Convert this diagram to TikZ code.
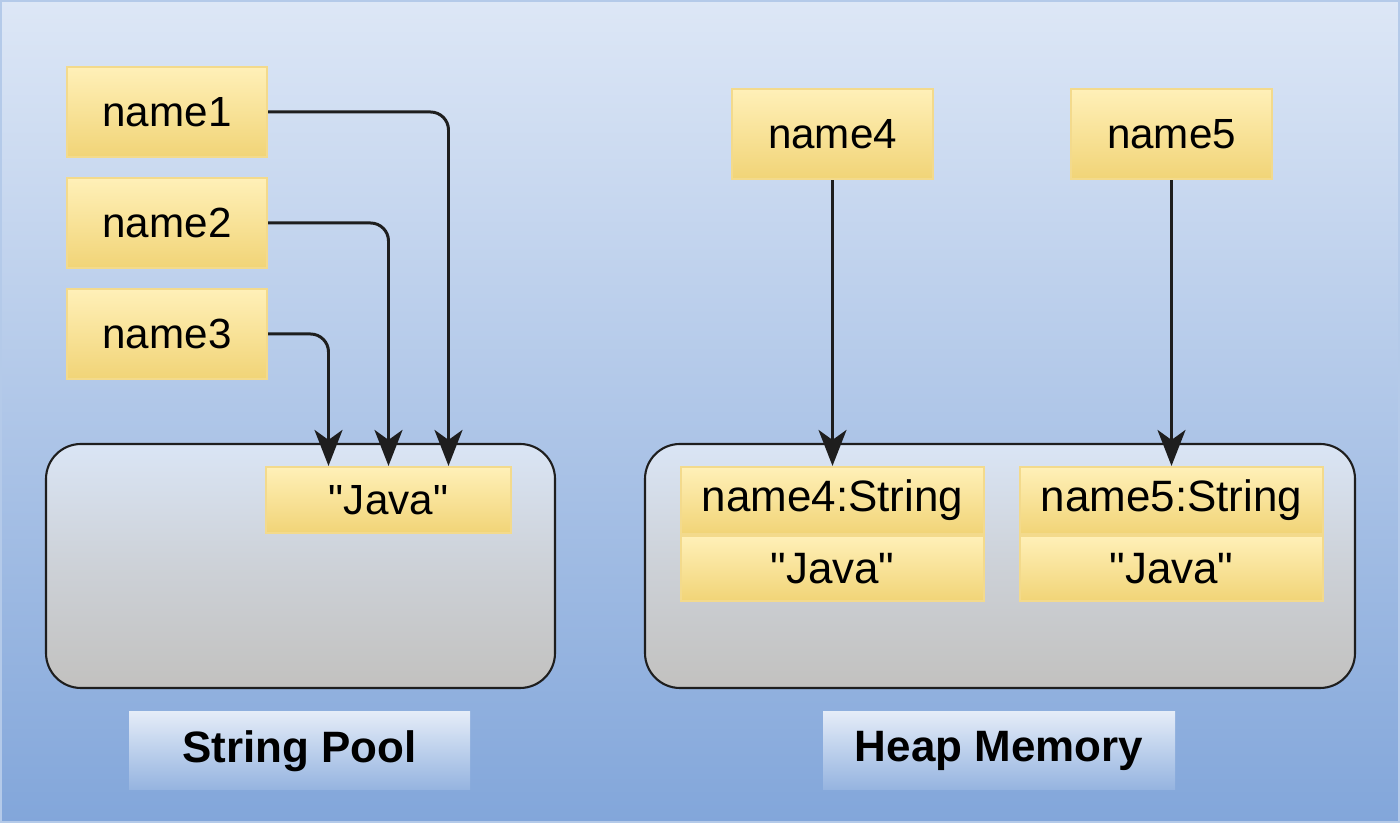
\documentclass[tikz,border=0pt]{standalone}
\usepackage{fontspec}
\setmainfont{Liberation Sans}
\usetikzlibrary{calc,arrows.meta}

\definecolor{bgtop}{HTML}{DDE7F6}
\definecolor{bgbot}{HTML}{82A6DA}
\definecolor{ytop}{HTML}{FFF0B8}
\definecolor{ybot}{HTML}{F1D477}
\definecolor{yline}{HTML}{F3DA8C}
\definecolor{gtop}{HTML}{DAE5F5}
\definecolor{gbot}{HTML}{C2C1BF}
\definecolor{ink}{HTML}{1E1E1E}

\newcommand{\jstr}{\textquotedbl Java\textquotedbl}

\tikzset{
  var/.style={draw=yline, line width=0.6pt, top color=ytop, bottom color=ybot,
    minimum width=2cm, minimum height=0.9cm, inner sep=0pt, font=\fontsize{12}{14}\selectfont},
  cell/.style={var, minimum width=3.03cm, minimum height=0.67cm, font=\fontsize{12.5}{14}\selectfont},
  area/.style={draw=ink, line width=0.6pt, rounded corners=0.35cm, top color=gtop, bottom color=gbot, middle color=gbot!55!gtop},
  tag/.style={top color=bgtop!80!white, bottom color=bgbot!85!white, inner sep=0pt,
    minimum height=0.78cm, font=\fontsize{12.5}{14}\selectfont\bfseries},
  ref/.style={draw=ink, line width=0.85pt, -{Stealth[length=3.6mm, width=2.8mm, inset=1mm]}, rounded corners=0.18cm}
}

\begin{document}
\begin{tikzpicture}
  % background
  \shade[top color=bgtop, bottom color=bgbot] (0,0) rectangle (14,8.23);
  \draw[bgbot!60!white, line width=0.5pt] (0.01,0.01) rectangle (13.99,8.22);
  \useasboundingbox (0,0) rectangle (14,8.23);

  % containers
  \path[area] (0.46,1.35) rectangle (5.55,3.79);
  \path[area] (6.45,1.35) rectangle (13.55,3.79);

  % string pool side
  \node[var, minimum width=2.45cm, minimum height=0.66cm] (java) at (3.885,3.23) {\jstr};
  \foreach \i/\y/\dx in {1/7.11/0.6, 2/6.00/0, 3/4.89/-0.6} {
    \node[var] (name\i) at (1.67,\y) {name\i};
    \draw[ref] (name\i.east) -| ([xshift=\dx cm]java.north);
  }

  % heap side
  \foreach \i/\x in {4/8.325, 5/11.715} {
    \node[var, minimum width=2.01cm] (name\i) at (\x,6.89) {name\i};
    \node[cell] (obj\i) at (\x,3.225) {name\i:String};
    \node[cell, minimum height=0.65cm, anchor=north] (val\i) at (obj\i.south) {\jstr};
    \draw[ref] (name\i) -- (obj\i);
  }

  % labels
  \node[tag, minimum width=3.41cm] (pool) at (2.995,0.72) {String Pool};
  \node[tag, minimum width=3.52cm] (heap) at (9.99,0.72) {Heap Memory};
\end{tikzpicture}
\end{document}
